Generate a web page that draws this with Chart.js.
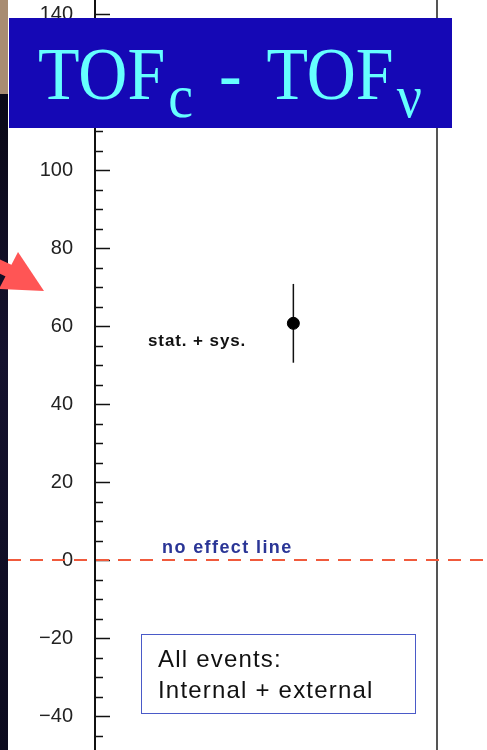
<!DOCTYPE html>
<html>
<head>
<meta charset="utf-8">
<script src="https://cdn.jsdelivr.net/npm/chart.js@4"></script>
<style>
  html, body { margin: 0; padding: 0; background: #fff; }
  #wrap { position: relative; width: 487px; height: 750px; overflow: hidden; }
  #chart { position: absolute; left: 0; top: 0; }
  .title-box {
    position: absolute; left: 9px; top: 18px; width: 443px; height: 110px;
    background: #1508b5; color: #66ffff;
    font-family: "Liberation Serif", "DejaVu Serif", serif;
  }
  .title-box .t {
    position: absolute; left: 29px; top: 19px; font-size: 68px; line-height: 1;
    white-space: nowrap; transform: scaleY(1.08); transform-origin: left top;
    word-spacing: 9px;
  }
  .title-box sub { font-size: 0.82em; vertical-align: -0.3em; line-height: 0; margin-left: 3px; }
  .note { position: absolute; font-family: "Liberation Sans", Arial, sans-serif; white-space: nowrap; }
  .stat { left: 148px; top: 331px; font-size: 17px; font-weight: bold; color: #111; letter-spacing: 0.9px; }
  .noeff { left: 162px; top: 537px; font-size: 18px; font-weight: bold; color: #2a3596; letter-spacing: 1.4px; }
  .events {
    left: 141px; top: 634px; width: 273px; height: 78px; border: 1.5px solid #4a5ac8;
    font-size: 24px; color: #111; line-height: 31px; padding: 0; letter-spacing: 1.2px;
  }
  .events div { padding-left: 16px; }
  .events div:first-child { margin-top: 8px; }
</style>
</head>
<body>
<div id="wrap">
  <canvas id="chart" width="487" height="750"></canvas>
  <div class="title-box"><span class="t">TOF<sub>c</sub> - TOF<sub>ν</sub></span></div>
  <div class="note stat">stat. + sys.</div>
  <div class="note noeff">no effect line</div>
  <div class="note events"><div>All events:</div><div>Internal + external</div></div>
</div>
<script>
// data
const categories = ['All events'];
const categoryX = [0.58];
const values = [60.7];
const errLow = [50.6];
const errHigh = [70.8];
const noEffect = 0;
const yTicks = [-40, -20, 0, 20, 40, 60, 80, 100, 120, 140];
const yMin = -48.7;
const yMax = 143.6;

/** Formats tick values with a real minus sign */
function fmtTick(v) {
  return v < 0 ? '\u2212' + Math.abs(v) : String(v);
}

const decorPlugin = {
  id: 'decor',
  beforeDraw(chart) {
    const ctx = chart.ctx;
    ctx.save();
    ctx.fillStyle = '#fff';
    ctx.fillRect(0, 0, chart.width, chart.height);
    // slide background strip on the left
    ctx.fillStyle = '#a88c72';
    ctx.fillRect(0, 0, 8, 94);
    const g = ctx.createLinearGradient(0, 94, 0, 750);
    g.addColorStop(0, '#0a0816');
    g.addColorStop(0.4, '#15122e');
    g.addColorStop(1, '#0c0b1e');
    ctx.fillStyle = g;
    ctx.fillRect(0, 94, 8, 656);
    // right frame line
    const area = chart.chartArea;
    ctx.strokeStyle = '#555';
    ctx.lineWidth = 2;
    ctx.beginPath();
    ctx.moveTo(area.right, 0);
    ctx.lineTo(area.right, chart.height);
    ctx.stroke();
    ctx.restore();
  },
  beforeDatasetsDraw(chart) {
    // error bars
    const ctx = chart.ctx;
    const xs = chart.scales.x, ys = chart.scales.y;
    ctx.save();
    ctx.strokeStyle = '#111';
    ctx.lineWidth = 1.5;
    values.forEach((v, i) => {
      const x = xs.getPixelForValue(categoryX[i]);
      ctx.beginPath();
      ctx.moveTo(x, ys.getPixelForValue(errHigh[i]));
      ctx.lineTo(x, ys.getPixelForValue(errLow[i]));
      ctx.stroke();
    });
    ctx.restore();
  },
  afterDraw(chart) {
    const ctx = chart.ctx;
    const ys = chart.scales.y;
    const left = chart.chartArea.left;
    ctx.save();
    // axis line and inward ticks
    ctx.strokeStyle = '#111';
    ctx.lineWidth = 2;
    ctx.beginPath();
    ctx.moveTo(left, 0);
    ctx.lineTo(left, chart.height);
    ctx.stroke();
    ctx.lineWidth = 1.5;
    for (let v = -45; v <= 140; v += 5) {
      const y = Math.round(ys.getPixelForValue(v)) + 0.5;
      const len = v % 20 === 0 ? 15 : 8;
      ctx.beginPath();
      ctx.moveTo(left, y);
      ctx.lineTo(left + len, y);
      ctx.stroke();
    }
    // no effect line
    const y0 = ys.getPixelForValue(noEffect);
    ctx.strokeStyle = '#f05a3c';
    ctx.lineWidth = 2;
    ctx.setLineDash([13, 9]);
    ctx.beginPath();
    ctx.moveTo(8, y0);
    ctx.lineTo(chart.width, y0);
    ctx.stroke();
    ctx.setLineDash([]);
    // red pointer arrow
    ctx.fillStyle = '#ff5555';
    ctx.strokeStyle = '#ff5555';
    ctx.lineWidth = 13;
    ctx.beginPath();
    ctx.moveTo(-10, 262);
    ctx.lineTo(20, 276);
    ctx.stroke();
    ctx.beginPath();
    ctx.moveTo(18, 252);
    ctx.lineTo(44, 291);
    ctx.lineTo(-1, 289);
    ctx.closePath();
    ctx.fill();
    ctx.restore();
  }
};

new Chart(document.getElementById('chart'), {
  type: 'scatter',
  data: {
    labels: categories,
    datasets: [{
      label: categories[0],
      data: values.map((v, i) => ({ x: categoryX[i], y: v })),
      backgroundColor: '#000',
      borderColor: '#000',
      pointRadius: 6,
      pointHoverRadius: 6
    }]
  },
  options: {
    responsive: false,
    animation: false,
    events: [],
    layout: { autoPadding: false, padding: { left: 0, right: 50, top: 0, bottom: 0 } },
    plugins: { legend: { display: false }, tooltip: { enabled: false } },
    scales: {
      x: { type: 'linear', min: 0, max: 1, display: false },
      y: {
        type: 'linear', position: 'left', min: yMin, max: yMax,
        grid: { display: false, drawTicks: false },
        border: { display: false },
        afterBuildTicks: s => { s.ticks = yTicks.map(v => ({ value: v })); },
        afterFit: s => { s.width = 95; s.paddingTop = 0; s.paddingBottom = 0; },
        ticks: {
          padding: 22,
          color: '#222',
          font: { family: 'Liberation Sans', size: 20 },
          callback: v => fmtTick(v)
        }
      }
    }
  },
  plugins: [decorPlugin]
});
</script>
</body>
</html>
